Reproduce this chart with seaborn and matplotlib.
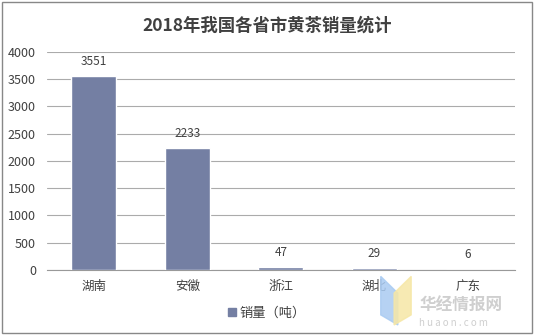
import matplotlib
matplotlib.use("Agg")
import matplotlib.pyplot as plt
import seaborn as sns
import pandas as pd
from matplotlib.patches import Rectangle, Polygon

provinces = ["湖南", "安徽", "浙江", "湖北", "广东"]
sales = [3551, 2233, 47, 29, 6]
yticks = [0, 500, 1000, 1500, 2000, 2500, 3000, 3500, 4000]
title = "2018年我国各省市黄茶销量统计"
legend_label = "销量（吨）"

sns.set_theme(style="white")
plt.rcParams['font.family'] = ['Noto Sans CJK SC', 'DejaVu Sans']

df = pd.DataFrame({"省份": provinces, "销量": sales})
bar_color = "#747FA3"

fig = plt.figure(figsize=(5.34, 3.35), dpi=100)
ax = fig.add_axes([0.088, 0.194, 0.876, 0.651])
sns.barplot(data=df, x="省份", y="销量", color=bar_color, width=0.48,
            saturation=1, ax=ax, zorder=3)

ax.set_ylim(0, 4000)
ax.set_yticks(yticks)
ax.set_yticklabels([str(v) for v in yticks], fontsize=9, color="#404040")
ax.set_xlim(-0.5, len(provinces) - 0.5)
ax.tick_params(axis="x", which="major", length=0, labelsize=9, labelcolor="#404040", pad=7)
ax.set_xticks([i - 0.5 for i in range(len(provinces) + 1)], minor=True)
ax.tick_params(axis="x", which="minor", length=4, width=0.8, color="#999999", direction="out")
ax.tick_params(axis="y", length=0, pad=8)
ax.grid(axis="y", color="#ABABAB", linewidth=0.8, zorder=0)
ax.set_xlabel("")
ax.set_ylabel("")
for s in ["top", "right", "left"]:
    ax.spines[s].set_visible(False)
ax.spines["bottom"].set_color("#999999")
ax.spines["bottom"].set_linewidth(0.8)

for i, v in enumerate(sales):
    ax.annotate(str(v), (i, v), xytext=(0, 6), textcoords="offset points",
                ha="center", va="bottom", fontsize=8.5, color="#404040")

fig.text(0.5, 0.925, title, ha="center", va="center", fontsize=12.5,
         fontweight="bold", color="#404040")

handle = Rectangle((0, 0), 1, 1, color=bar_color)
fig.legend([handle], [legend_label], loc="center", bbox_to_anchor=(0.5, 0.065),
           frameon=False, fontsize=9.5, handlelength=0.6, handleheight=0.6,
           handletextpad=0.3, labelcolor="#404040")

# watermark (logo + text)
fig.patches.append(Polygon([(0.713, 0.175), (0.745, 0.125), (0.745, 0.03), (0.713, 0.06)],
                           closed=True, transform=fig.transFigure,
                           color="#A9CBF2", alpha=0.85, zorder=9))
fig.patches.append(Polygon([(0.738, 0.125), (0.77, 0.175), (0.77, 0.06), (0.738, 0.03)],
                           closed=True, transform=fig.transFigure,
                           color="#F6E7A6", alpha=0.85, zorder=9))
fig.text(0.785, 0.088, "华经情报网", fontsize=12, color="#CFCFCF", ha="left",
         va="center", fontweight="bold", zorder=10)
fig.text(0.785, 0.035, "h u a o n . c o m", fontsize=7, color="#CFCFCF",
         ha="left", va="center", zorder=10)

fig.patches.append(Rectangle((0.003, 0.005), 0.994, 0.99, transform=fig.transFigure,
                             fill=False, edgecolor="#888888", linewidth=1))

fig.savefig("out.png", dpi=100)
